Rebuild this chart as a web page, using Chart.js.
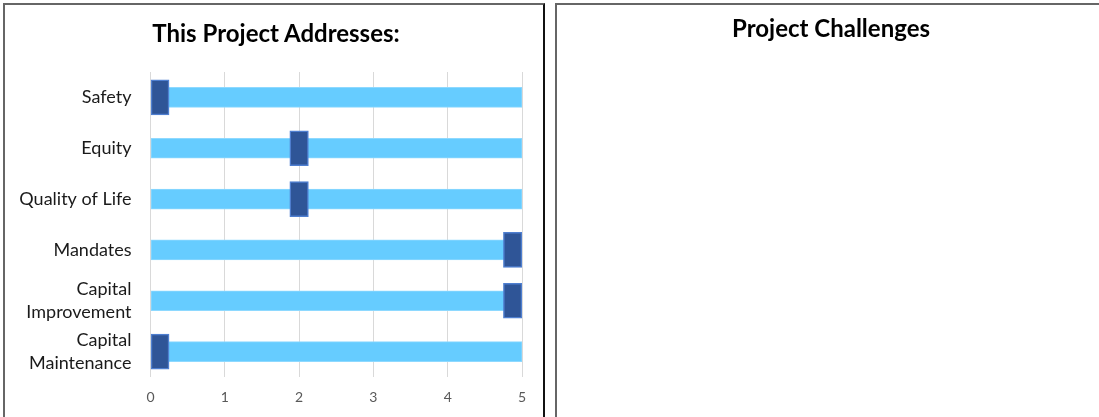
<!DOCTYPE html>
<html>
<head>
<meta charset="utf-8">
<script src="https://cdn.jsdelivr.net/npm/chart.js@4.4.1/dist/chart.umd.min.js"></script>
<style>
  html, body { margin: 0; padding: 0; background: #fff; overflow: hidden; }
  body { width: 1099px; height: 417px; position: relative; font-family: Lato, sans-serif; }
  .panel { position: absolute; top: 3px; height: 430px; border: 2px solid #666; border-right-color: #111; box-sizing: content-box; }
  #left { left: 3px; width: 538px; }
  #right { left: 555px; width: 548px; border-right: none; }
  .panel h2 { margin: 0; position: absolute; left: 0; text-align: center;
              font: bold 24px Lato, sans-serif; color: #000; white-space: nowrap; }
  #left h2 { top: 13px; width: 542px; }
  #right h2 { top: 8px; width: 100%; }
  #wrap { position: absolute; left: 0; top: 0; width: 538px; height: 412px; }
</style>
</head>
<body>
<div class="panel" id="left">
  <div id="wrap"><canvas id="chart"></canvas></div>
  <h2>This Project Addresses:</h2>
</div>
<div class="panel" id="right"><h2>Project Challenges</h2></div>
<script>
var categories = ['Safety', 'Equity', 'Quality of Life', 'Mandates', ['Capital', 'Improvement'], ['Capital', 'Maintenance']];
var fullScale = [5, 5, 5, 5, 5, 5];
var ratings = [0, 2, 2, 5, 5, 0];
var xTicks = [0, 1, 2, 3, 4, 5];
var markerWidth = 0.25;

// marker sits on the rating but is kept inside the 0..5 track
var markers = ratings.map(function (r) {
  var start = Math.min(Math.max(r - markerWidth / 2, 0), 5 - markerWidth);
  return [start, start + markerWidth];
});

var ctx = document.getElementById('chart').getContext('2d');
new Chart(ctx, {
  type: 'bar',
  data: {
    labels: categories,
    datasets: [{
      label: 'Rating',
      data: markers,
      backgroundColor: '#2F5597',
      borderColor: '#4F7FD0',
      borderWidth: 1.5,
      borderSkipped: false,
      barThickness: 35,
      grouped: false,
      order: 0
    }, {
      label: 'Scale',
      data: fullScale,
      backgroundColor: '#66CCFF',
      borderColor: '#8ED9FF',
      borderWidth: 1,
      borderSkipped: false,
      barThickness: 20,
      grouped: false,
      order: 1
    }]
  },
  options: {
    indexAxis: 'y',
    responsive: true,
    maintainAspectRatio: false,
    animation: false,
    layout: { padding: { left: 0, right: 21, top: 67, bottom: 0 } },
    plugins: {
      legend: { display: false },
      tooltip: { enabled: false },
      title: { display: false }
    },
    scales: {
      x: {
        min: 0,
        max: 5,
        afterBuildTicks: function (scale) {
          scale.ticks = xTicks.map(function (v) { return { value: v }; });
        },
        afterFit: function (scale) { scale.height = 40; },
        grid: { color: '#D9D9D9', drawTicks: false },
        border: { display: false },
        ticks: { color: '#595959', font: { family: 'Lato', size: 14 }, padding: 12 }
      },
      y: {
        afterFit: function (scale) { scale.width = 145.5; },
        grid: { display: false },
        border: { display: false },
        ticks: { color: '#1a1a1a', font: { family: 'Lato', size: 18, lineHeight: 1.25 }, padding: 11 }
      }
    }
  }
});
</script>
</body>
</html>
